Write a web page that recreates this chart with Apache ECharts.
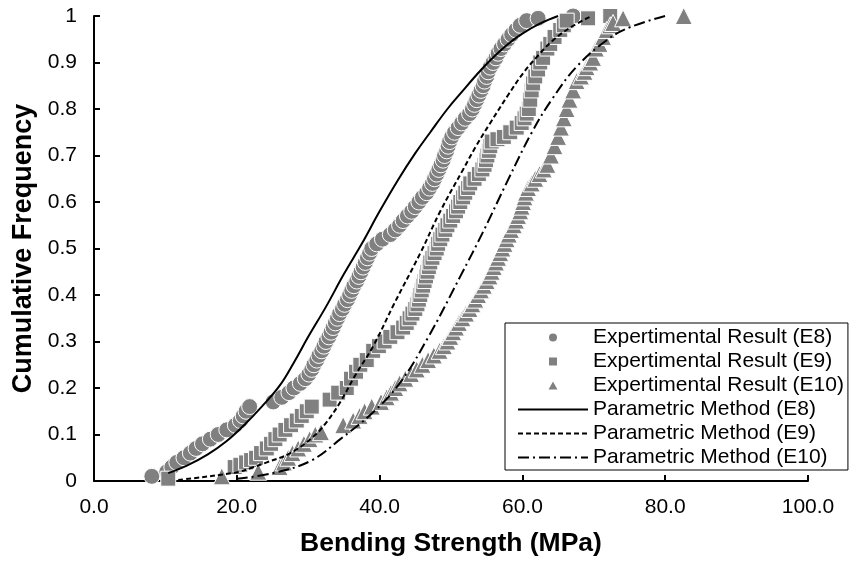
<!DOCTYPE html>
<html>
<head>
<meta charset="utf-8">
<script src="https://cdn.jsdelivr.net/npm/echarts@6/dist/echarts.min.js"></script>
<style>
  html, body { margin: 0; padding: 0; background: #fff; }
  #main { width: 855px; height: 562px; }
</style>
</head>
<body>
<div id="main"></div>
<script type="text/javascript">

    // experimental cumulative frequency, [strength MPa, frequency]
    var expE8 = [
        [8.1, 0.01], [10.2, 0.02], [10.9, 0.03], [11.6, 0.04], [12.6, 0.05], [13.5, 0.06], [14.3, 0.07], [15.2, 0.08],
        [16.3, 0.09], [17.4, 0.10], [18.6, 0.11], [19.8, 0.12], [20.5, 0.13], [20.9, 0.14], [21.3, 0.15], [21.8, 0.16],
        [25.1, 0.17], [26.3, 0.18], [27.3, 0.19], [28.0, 0.20], [28.9, 0.21], [29.6, 0.22], [30.1, 0.23], [30.5, 0.24],
        [30.8, 0.25], [31.2, 0.26], [31.5, 0.27], [31.9, 0.28], [32.2, 0.29], [32.5, 0.30], [32.9, 0.31], [33.2, 0.32],
        [33.5, 0.33], [33.8, 0.34], [34.1, 0.35], [34.4, 0.36], [34.8, 0.37], [35.1, 0.38], [35.5, 0.39], [35.8, 0.40],
        [36.1, 0.41], [36.4, 0.42], [36.8, 0.43], [37.1, 0.44], [37.4, 0.45], [37.7, 0.46], [38.0, 0.47], [38.3, 0.48],
        [38.6, 0.49], [38.9, 0.50], [39.6, 0.51], [40.4, 0.52], [41.5, 0.53], [42.2, 0.54], [42.8, 0.55], [43.3, 0.56],
        [43.9, 0.57], [44.5, 0.58], [45.0, 0.59], [45.5, 0.60], [46.0, 0.61], [46.6, 0.62], [47.0, 0.63], [47.4, 0.64],
        [47.7, 0.65], [48.0, 0.66], [48.3, 0.67], [48.6, 0.68], [48.9, 0.69], [49.1, 0.70], [49.4, 0.71], [49.6, 0.72],
        [49.8, 0.73], [50.1, 0.74], [50.5, 0.75], [51.0, 0.76], [51.5, 0.77], [52.0, 0.78], [52.6, 0.79], [53.0, 0.80],
        [53.3, 0.81], [53.6, 0.82], [53.9, 0.83], [54.2, 0.84], [54.5, 0.85], [54.7, 0.86], [55.0, 0.87], [55.2, 0.88],
        [55.5, 0.89], [55.9, 0.90], [56.3, 0.91], [56.6, 0.92], [57.0, 0.93], [57.5, 0.94], [58.0, 0.95], [58.5, 0.96],
        [59.1, 0.97], [59.7, 0.98], [60.6, 0.99], [62.2, 0.995], [67.1, 1.0]
    ];
    var expE9 = [
        [10.4, 0.005], [19.7, 0.03], [20.5, 0.035], [21.3, 0.04], [22.0, 0.045], [22.7, 0.05], [23.4, 0.06], [24.2, 0.07],
        [24.8, 0.08], [25.4, 0.09], [26.0, 0.10], [26.8, 0.11], [27.6, 0.12], [28.4, 0.13], [29.1, 0.14], [29.8, 0.15],
        [30.5, 0.16], [33.0, 0.175], [34.2, 0.19], [35.4, 0.20], [36.0, 0.22], [36.7, 0.235], [37.3, 0.25], [38.2, 0.26],
        [39.1, 0.28], [39.9, 0.29], [40.7, 0.30], [41.5, 0.31], [42.5, 0.32], [43.3, 0.33], [43.8, 0.34], [44.2, 0.35],
        [44.6, 0.36], [45.0, 0.37], [45.3, 0.38], [45.5, 0.39], [45.7, 0.40], [45.9, 0.41], [46.1, 0.42], [46.3, 0.43],
        [46.5, 0.44], [46.7, 0.45], [46.9, 0.46], [47.1, 0.47], [47.4, 0.48], [47.7, 0.49], [48.0, 0.50], [48.2, 0.51],
        [48.5, 0.52], [48.8, 0.53], [49.2, 0.54], [49.5, 0.55], [49.9, 0.56], [50.3, 0.57], [50.7, 0.58], [51.0, 0.59],
        [51.3, 0.60], [51.7, 0.61], [52.0, 0.62], [52.4, 0.63], [52.7, 0.64], [53.3, 0.65], [53.9, 0.66], [54.4, 0.67],
        [54.7, 0.68], [54.9, 0.69], [55.1, 0.70], [55.3, 0.71], [55.5, 0.72], [55.7, 0.73], [56.5, 0.735], [57.4, 0.74],
        [58.3, 0.75], [59.2, 0.76], [59.9, 0.77], [60.3, 0.78], [60.6, 0.79], [60.9, 0.80], [61.1, 0.82], [61.3, 0.84],
        [61.5, 0.855], [61.8, 0.87], [62.2, 0.885], [62.5, 0.90], [62.9, 0.91], [63.5, 0.93], [63.9, 0.94], [64.5, 0.955],
        [65.3, 0.97], [65.8, 0.98], [66.2, 0.99], [69.2, 0.995], [72.3, 1.0]
    ];
    var expE10 = [
        [17.9, 0.01], [23.0, 0.02], [26.0, 0.03], [26.6, 0.04], [27.2, 0.05], [27.8, 0.06], [28.6, 0.07], [29.4, 0.08],
        [30.2, 0.09], [31.0, 0.10], [31.8, 0.105], [34.9, 0.12], [36.3, 0.13], [37.2, 0.14], [37.9, 0.15], [38.9, 0.16],
        [40.2, 0.17], [41.0, 0.18], [41.6, 0.19], [42.2, 0.20], [42.8, 0.21], [43.6, 0.22], [44.4, 0.23], [45.2, 0.24],
        [46.0, 0.25], [46.8, 0.26], [47.6, 0.27], [48.4, 0.28], [49.0, 0.29], [49.5, 0.30], [49.9, 0.31], [50.3, 0.32],
        [50.7, 0.33], [51.1, 0.34], [51.6, 0.35], [52.1, 0.36], [52.6, 0.37], [53.0, 0.38], [53.4, 0.39], [53.8, 0.40],
        [54.2, 0.41], [54.6, 0.42], [55.0, 0.43], [55.4, 0.44], [55.7, 0.45], [56.0, 0.46], [56.3, 0.47], [56.6, 0.48],
        [56.9, 0.49], [57.2, 0.50], [57.5, 0.51], [57.8, 0.52], [58.1, 0.53], [58.4, 0.54], [58.8, 0.55], [59.1, 0.56],
        [59.4, 0.57], [59.7, 0.58], [59.9, 0.59], [60.1, 0.60], [60.3, 0.61], [60.5, 0.62], [60.8, 0.63], [61.3, 0.64],
        [61.8, 0.65], [62.4, 0.66], [63.0, 0.67], [63.5, 0.68], [64.0, 0.70], [64.5, 0.72], [65.0, 0.74], [65.4, 0.76],
        [65.8, 0.78], [66.2, 0.80], [66.6, 0.82], [67.1, 0.84], [67.6, 0.86], [68.2, 0.87], [68.7, 0.88], [69.0, 0.89],
        [69.5, 0.90], [69.9, 0.91], [70.3, 0.93], [70.8, 0.94], [71.3, 0.955], [71.8, 0.97], [72.3, 0.98], [72.7, 0.985],
        [74.1, 0.995], [82.6, 1.0]
    ];

    // parametric method curves
    var parE8 = [
        [10.4, 0.017], [13.0, 0.033], [16.0, 0.058], [18.5, 0.085], [21.0, 0.12], [23.5, 0.16], [26.0, 0.205],
        [28.0, 0.255], [30.0, 0.31], [32.5, 0.375], [35.0, 0.445], [37.5, 0.51], [40.0, 0.58], [42.6, 0.648],
        [45.0, 0.705], [47.1, 0.75], [49.5, 0.80], [51.7, 0.84], [53.5, 0.872], [55.5, 0.905], [58.0, 0.94],
        [60.1, 0.963], [62.5, 0.984], [65.0, 1.0]
    ];
    var parE9 = [
        [11.8, 0.002], [15.0, 0.008], [18.0, 0.014], [20.4, 0.02], [22.0, 0.028], [24.2, 0.04], [27.5, 0.06],
        [30.7, 0.095], [32.5, 0.125], [34.5, 0.17], [36.5, 0.225], [39.1, 0.29], [42.0, 0.38], [45.7, 0.49],
        [48.5, 0.58], [51.7, 0.67], [53.5, 0.72], [55.5, 0.77], [58.0, 0.83], [60.1, 0.877], [62.2, 0.915],
        [64.3, 0.948], [67.0, 0.978], [69.7, 1.0]
    ];
    var parE10 = [
        [20.0, 0.005], [25.1, 0.017], [30.3, 0.043], [34.5, 0.09], [39.1, 0.148], [42.9, 0.212], [46.8, 0.309],
        [51.3, 0.44], [54.5, 0.536], [58.0, 0.648], [61.3, 0.749], [64.1, 0.82], [67.6, 0.891], [71.8, 0.948],
        [75.1, 0.976], [80.0, 1.0]
    ];

    var names = [
        "Expertimental Result (E8)", "Expertimental Result (E9)", "Expertimental Result (E10)",
        "Parametric Method (E8)", "Parametric Method (E9)", "Parametric Method (E10)"
    ];

    var font = "Arial, 'Liberation Sans', sans-serif";
    var gray = '#808080';

    function scatter(name, data, symbol, size) {
        return {
            name: name,
            type: 'scatter',
            data: data,
            symbol: symbol,
            symbolSize: size,
            itemStyle: { color: gray, borderColor: '#fff', borderWidth: 1, opacity: 1 }
        };
    }

    function curve(name, data, dash) {
        return {
            name: name,
            type: 'line',
            data: data,
            smooth: 0.4,
            symbol: 'none',
            showSymbol: false,
            lineStyle: { color: '#000', width: 2, type: dash },
            itemStyle: { color: '#000' }
        };
    }

    // legend keys: small markers for the points, no dot on the lines
    var hidden = { color: 'rgba(0,0,0,0)', borderColor: 'rgba(0,0,0,0)', borderWidth: 0, opacity: 0 };
    var legendData = [
        { name: names[0], icon: 'circle', itemStyle: { color: gray, borderWidth: 0 } },
        { name: names[1], icon: 'path://M0,0L10,0L10,10L0,10Z', itemStyle: { color: gray, borderWidth: 0 } },
        { name: names[2], icon: 'path://M5,0L10,9L0,9Z', itemStyle: { color: gray, borderWidth: 0 } },
        { name: names[3], itemStyle: hidden },
        { name: names[4], itemStyle: hidden },
        { name: names[5], itemStyle: hidden }
    ];

    var chart = echarts.init(document.getElementById('main'));

    var option = {
        animation: false,
        backgroundColor: '#fff',
        grid: { left: 94, right: 47, top: 16, bottom: 80 },
        xAxis: {
            type: 'value',
            min: 0,
            max: 100,
            interval: 20,
            name: 'Bending Strength (MPa)',
            nameLocation: 'middle',
            nameGap: 49,
            nameTextStyle: { fontFamily: font, fontSize: 26.5, fontWeight: 'bold', color: '#000' },
            axisLine: { lineStyle: { color: '#000', width: 2 } },
            axisTick: { inside: true, length: 6, lineStyle: { color: '#000', width: 2 } },
            axisLabel: {
                margin: 16,
                fontFamily: font, fontSize: 21, color: '#000',
                formatter: function (v) { return v.toFixed(1); }
            },
            splitLine: { show: false }
        },
        yAxis: {
            type: 'value',
            min: 0,
            max: 1,
            interval: 0.1,
            name: 'Cumulative Frequency',
            nameLocation: 'middle',
            nameGap: 56,
            nameTextStyle: { fontFamily: font, fontSize: 27, fontWeight: 'bold', color: '#000' },
            axisLine: { lineStyle: { color: '#000', width: 2 } },
            axisTick: { inside: true, length: 6, lineStyle: { color: '#000', width: 2 } },
            axisLabel: { margin: 17, fontFamily: font, fontSize: 21, color: '#000' },
            splitLine: { show: false }
        },
        legend: {
            data: legendData,
            orient: 'vertical',
            left: 505,
            top: 323,
            padding: [4, 4, 2, 12],
            itemWidth: 70,
            itemHeight: 8,
            itemGap: 3,
            symbolKeepAspect: true,
            borderColor: '#000',
            borderWidth: 1,
            backgroundColor: '#fff',
            selectedMode: false,
            textStyle: { fontFamily: font, fontSize: 21, color: '#000', lineHeight: 21 }
        },
        series: [
            scatter(names[0], expE8, 'circle', 16),
            scatter(names[1], expE9, 'rect', 15),
            scatter(names[2], expE10, 'triangle', 17),
            curve(names[3], parE8, 'solid'),
            curve(names[4], parE9, [5, 3]),
            curve(names[5], parE10, [11, 4, 2, 4])
        ]
    };

    chart.setOption(option);
</script>
</body>
</html>
